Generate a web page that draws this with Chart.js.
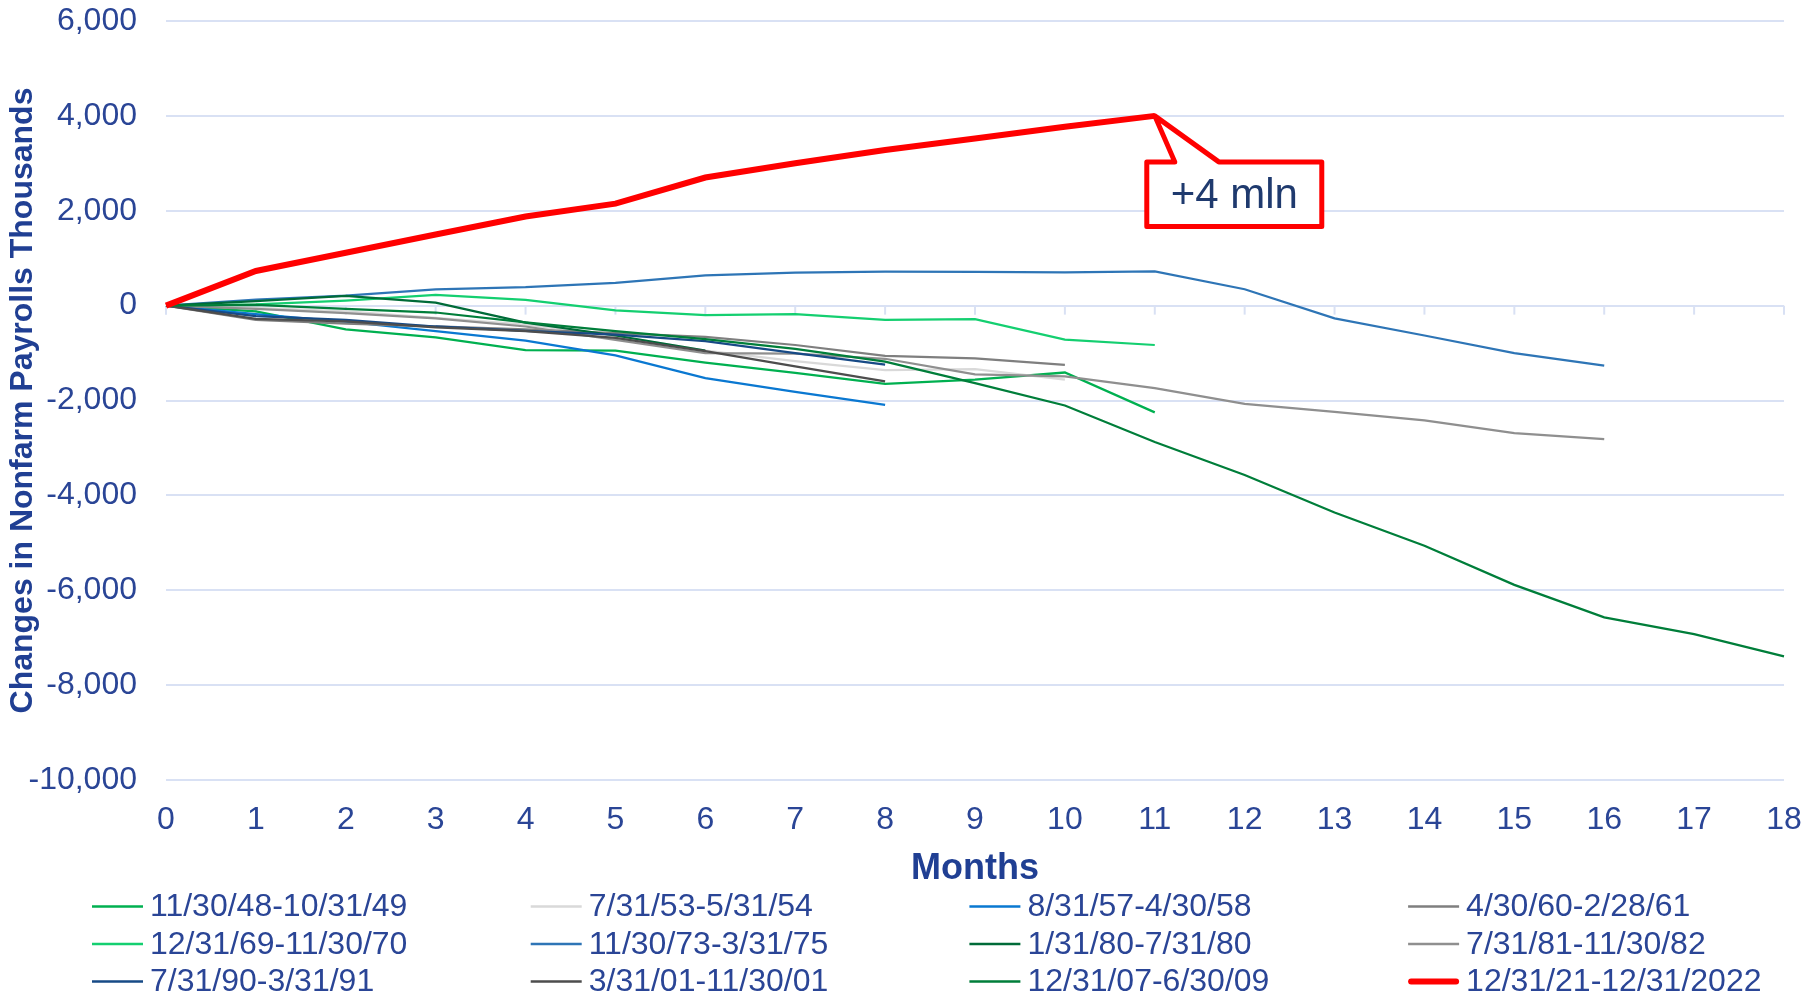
<!DOCTYPE html>
<html>
<head>
<meta charset="utf-8">
<script src="https://cdn.jsdelivr.net/npm/chart.js@4.4.0/dist/chart.umd.min.js"></script>
<style>
  html, body { margin: 0; padding: 0; background: #fff; }
  #wrap { width: 1817px; height: 996px; }
</style>
</head>
<body>
<div id="wrap"><canvas id="payrollsChart"></canvas></div>
<script>
// months since the start of each episode
const months = ['0', '1', '2', '3', '4', '5', '6', '7', '8', '9', '10', '11', '12', '13', '14', '15', '16', '17', '18'];

// change in nonfarm payrolls, thousands
const s1948 = [0, -120, -500, -670, -940, -950, -1200, -1420, -1650, -1560, -1410, -2250];
const s1953 = [0, -50, -120, -260, -400, -640, -950, -1170, -1360, -1340, -1560];
const s1957 = [0, -180, -340, -540, -740, -1050, -1530, -1820, -2090];
const s1960 = [0, -300, -380, -440, -500, -580, -660, -830, -1060, -1110, -1250];
const s1970 = [0, 25, 105, 225, 120, -100, -200, -180, -300, -285, -715, -830];
const s1973 = [0, 125, 210, 345, 390, 480, 640, 695, 715, 710, 700, 720, 345, -270, -630, -1000, -1267];
const s1980 = [0, 95, 205, 65, -360, -630, -950];
const s1981 = [0, -70, -160, -270, -440, -720, -1000, -1010, -1120, -1450, -1490, -1740, -2070, -2240, -2420, -2690, -2815];
const s1990 = [0, -220, -300, -440, -530, -610, -750, -1000, -1245];
const s2001 = [0, -280, -330, -460, -540, -680, -960, -1280, -1595];
const s2007 = [0, 17, -67, -145, -355, -540, -705, -914, -1180, -1632, -2105, -2874, -3569, -4360, -5063, -5886, -6572, -6923, -7393];
const s2021 = [0, 730, 1115, 1500, 1880, 2150, 2700, 3000, 3280, 3525, 3770, 4000];

const seriesNames = ['11/30/48-10/31/49', '7/31/53-5/31/54', '8/31/57-4/30/58', '4/30/60-2/28/61',
    '12/31/69-11/30/70', '11/30/73-3/31/75', '1/31/80-7/31/80', '7/31/81-11/30/82',
    '7/31/90-3/31/91', '3/31/01-11/30/01', '12/31/07-6/30/09', '12/31/21-12/31/2022'];
const seriesValues = [s1948, s1953, s1957, s1960, s1970, s1973, s1980, s1981, s1990, s2001, s2007, s2021];

const yTicks = [6000, 4000, 2000, 0, -2000, -4000, -6000, -8000, -10000];
const calloutText = '+4 mln';

const seriesColors = ['#00B050', '#D9D9D9', '#0A78D1', '#7F7F7F', '#14CF70', '#2E75B6',
    '#006B38', '#8F8F8F', '#174A86', '#4D4D4D', '#007E3A', '#FF0000'];

const FONT = "'Liberation Sans', Arial, sans-serif";
const TEXT = '#2A4596';
const TITLE = '#203F93';
const GRID = '#D9E1F4';

// small tick marks hanging under the zero line
const zeroTicks = {
    id: 'zeroTicks',
    beforeDatasetsDraw(chart) {
        const { ctx, scales: { x, y } } = chart;
        const y0 = y.getPixelForValue(0);
        ctx.save();
        ctx.strokeStyle = GRID;
        ctx.lineWidth = 2;
        months.forEach((m, i) => {
            const px = x.getPixelForValue(i);
            ctx.beginPath();
            ctx.moveTo(px, y0);
            ctx.lineTo(px, y0 + 9);
            ctx.stroke();
        });
        ctx.restore();
    }
};

// the "+4 mln" callout pointing at the last red point
const callout = {
    id: 'callout',
    afterDatasetsDraw(chart) {
        const meta = chart.getDatasetMeta(seriesValues.length - 1);
        const pt = meta.data[s2021.length - 1];
        const ctx = chart.ctx;
        const L = pt.x - 8, R = pt.x + 167, T = pt.y + 46, B = pt.y + 110.5;
        ctx.save();
        ctx.beginPath();
        ctx.moveTo(L, T);
        ctx.lineTo(pt.x + 20, T);
        ctx.lineTo(pt.x, pt.y);
        ctx.lineTo(pt.x + 64, T);
        ctx.lineTo(R, T);
        ctx.lineTo(R, B);
        ctx.lineTo(L, B);
        ctx.closePath();
        ctx.fillStyle = '#fff';
        ctx.fill();
        ctx.lineWidth = 5;
        ctx.lineJoin = 'round';
        ctx.strokeStyle = '#FF0000';
        ctx.stroke();
        ctx.fillStyle = '#1F3A6E';
        ctx.font = '42px ' + FONT;
        ctx.textAlign = 'center';
        ctx.textBaseline = 'middle';
        ctx.fillText(calloutText, (L + R) / 2, (T + B) / 2 + 2);
        ctx.restore();
    }
};

// legend laid out as a 4 column grid like the original
const legendGrid = {
    id: 'legendGrid',
    afterDraw(chart) {
        const ctx = chart.ctx;
        const top = chart.scales.x.bottom + 15.5;
        ctx.save();
        ctx.font = '32px ' + FONT;
        ctx.textBaseline = 'middle';
        ctx.textAlign = 'left';
        chart.data.datasets.forEach((ds, i) => {
            const col = i % 4, row = Math.floor(i / 4);
            const x0 = 92 + col * 438.7;
            const y = top + row * 37.5;
            const thick = ds.borderWidth > 3;
            ctx.beginPath();
            ctx.strokeStyle = ds.borderColor;
            ctx.lineWidth = thick ? 6 : 2.5;
            ctx.lineCap = thick ? 'round' : 'butt';
            ctx.moveTo(x0 + (thick ? 3 : 0), y);
            ctx.lineTo(x0 + 51 - (thick ? 3 : 0), y);
            ctx.stroke();
            ctx.fillStyle = TEXT;
            ctx.fillText(ds.label, x0 + 58, y + 1);
        });
        ctx.restore();
    }
};

function buildDatasets() {
    return seriesValues.map((vals, i) => {
        const isLatest = i === seriesValues.length - 1;
        return {
            label: seriesNames[i],
            data: vals,
            borderColor: seriesColors[i],
            backgroundColor: seriesColors[i],
            borderWidth: isLatest ? 6 : 2.25,
            pointRadius: 0,
            tension: 0,
            fill: false,
            order: seriesValues.length - i
        };
    });
}

var ctx = document.getElementById('payrollsChart').getContext('2d');
new Chart(ctx, {
    type: 'line',
    data: {
        labels: months,
        datasets: buildDatasets()
    },
    options: {
        responsive: true,
        maintainAspectRatio: false,
        animation: false,
        layout: { padding: { top: 21, right: 33, bottom: 105, left: 0 } },
        plugins: {
            legend: { display: false },
            tooltip: { enabled: false }
        },
        scales: {
            x: {
                grid: { display: false, drawTicks: false },
                border: { display: false },
                ticks: {
                    color: TEXT,
                    font: { family: FONT, size: 32 },
                    padding: 21,
                    maxRotation: 0,
                    autoSkip: false
                },
                title: {
                    display: true,
                    text: 'Months',
                    color: TITLE,
                    font: { family: FONT, size: 36, weight: 'bold' },
                    padding: { top: 0, bottom: 0 }
                },
                afterFit: s => { s.height = 111; s.paddingLeft = 0; s.paddingRight = 0; }
            },
            y: {
                min: yTicks[yTicks.length - 1],
                max: yTicks[0],
                afterBuildTicks: s => { s.ticks = yTicks.map(v => ({ value: v })); },
                ticks: {
                    color: TEXT,
                    font: { family: FONT, size: 32 },
                    padding: 29,
                    callback: v => v.toLocaleString('en-US')
                },
                grid: { color: GRID, lineWidth: 2, drawTicks: false },
                border: { display: false },
                title: {
                    display: true,
                    text: 'Changes in Nonfarm Payrolls Thousands',
                    color: TITLE,
                    font: { family: FONT, size: 32, weight: 'bold' },
                    padding: { top: 4, bottom: 0 }
                },
                afterFit: s => { s.width = 166; s.paddingTop = 0; s.paddingBottom = 0; }
            }
        }
    },
    plugins: [zeroTicks, callout, legendGrid]
});
</script>
</body>
</html>
